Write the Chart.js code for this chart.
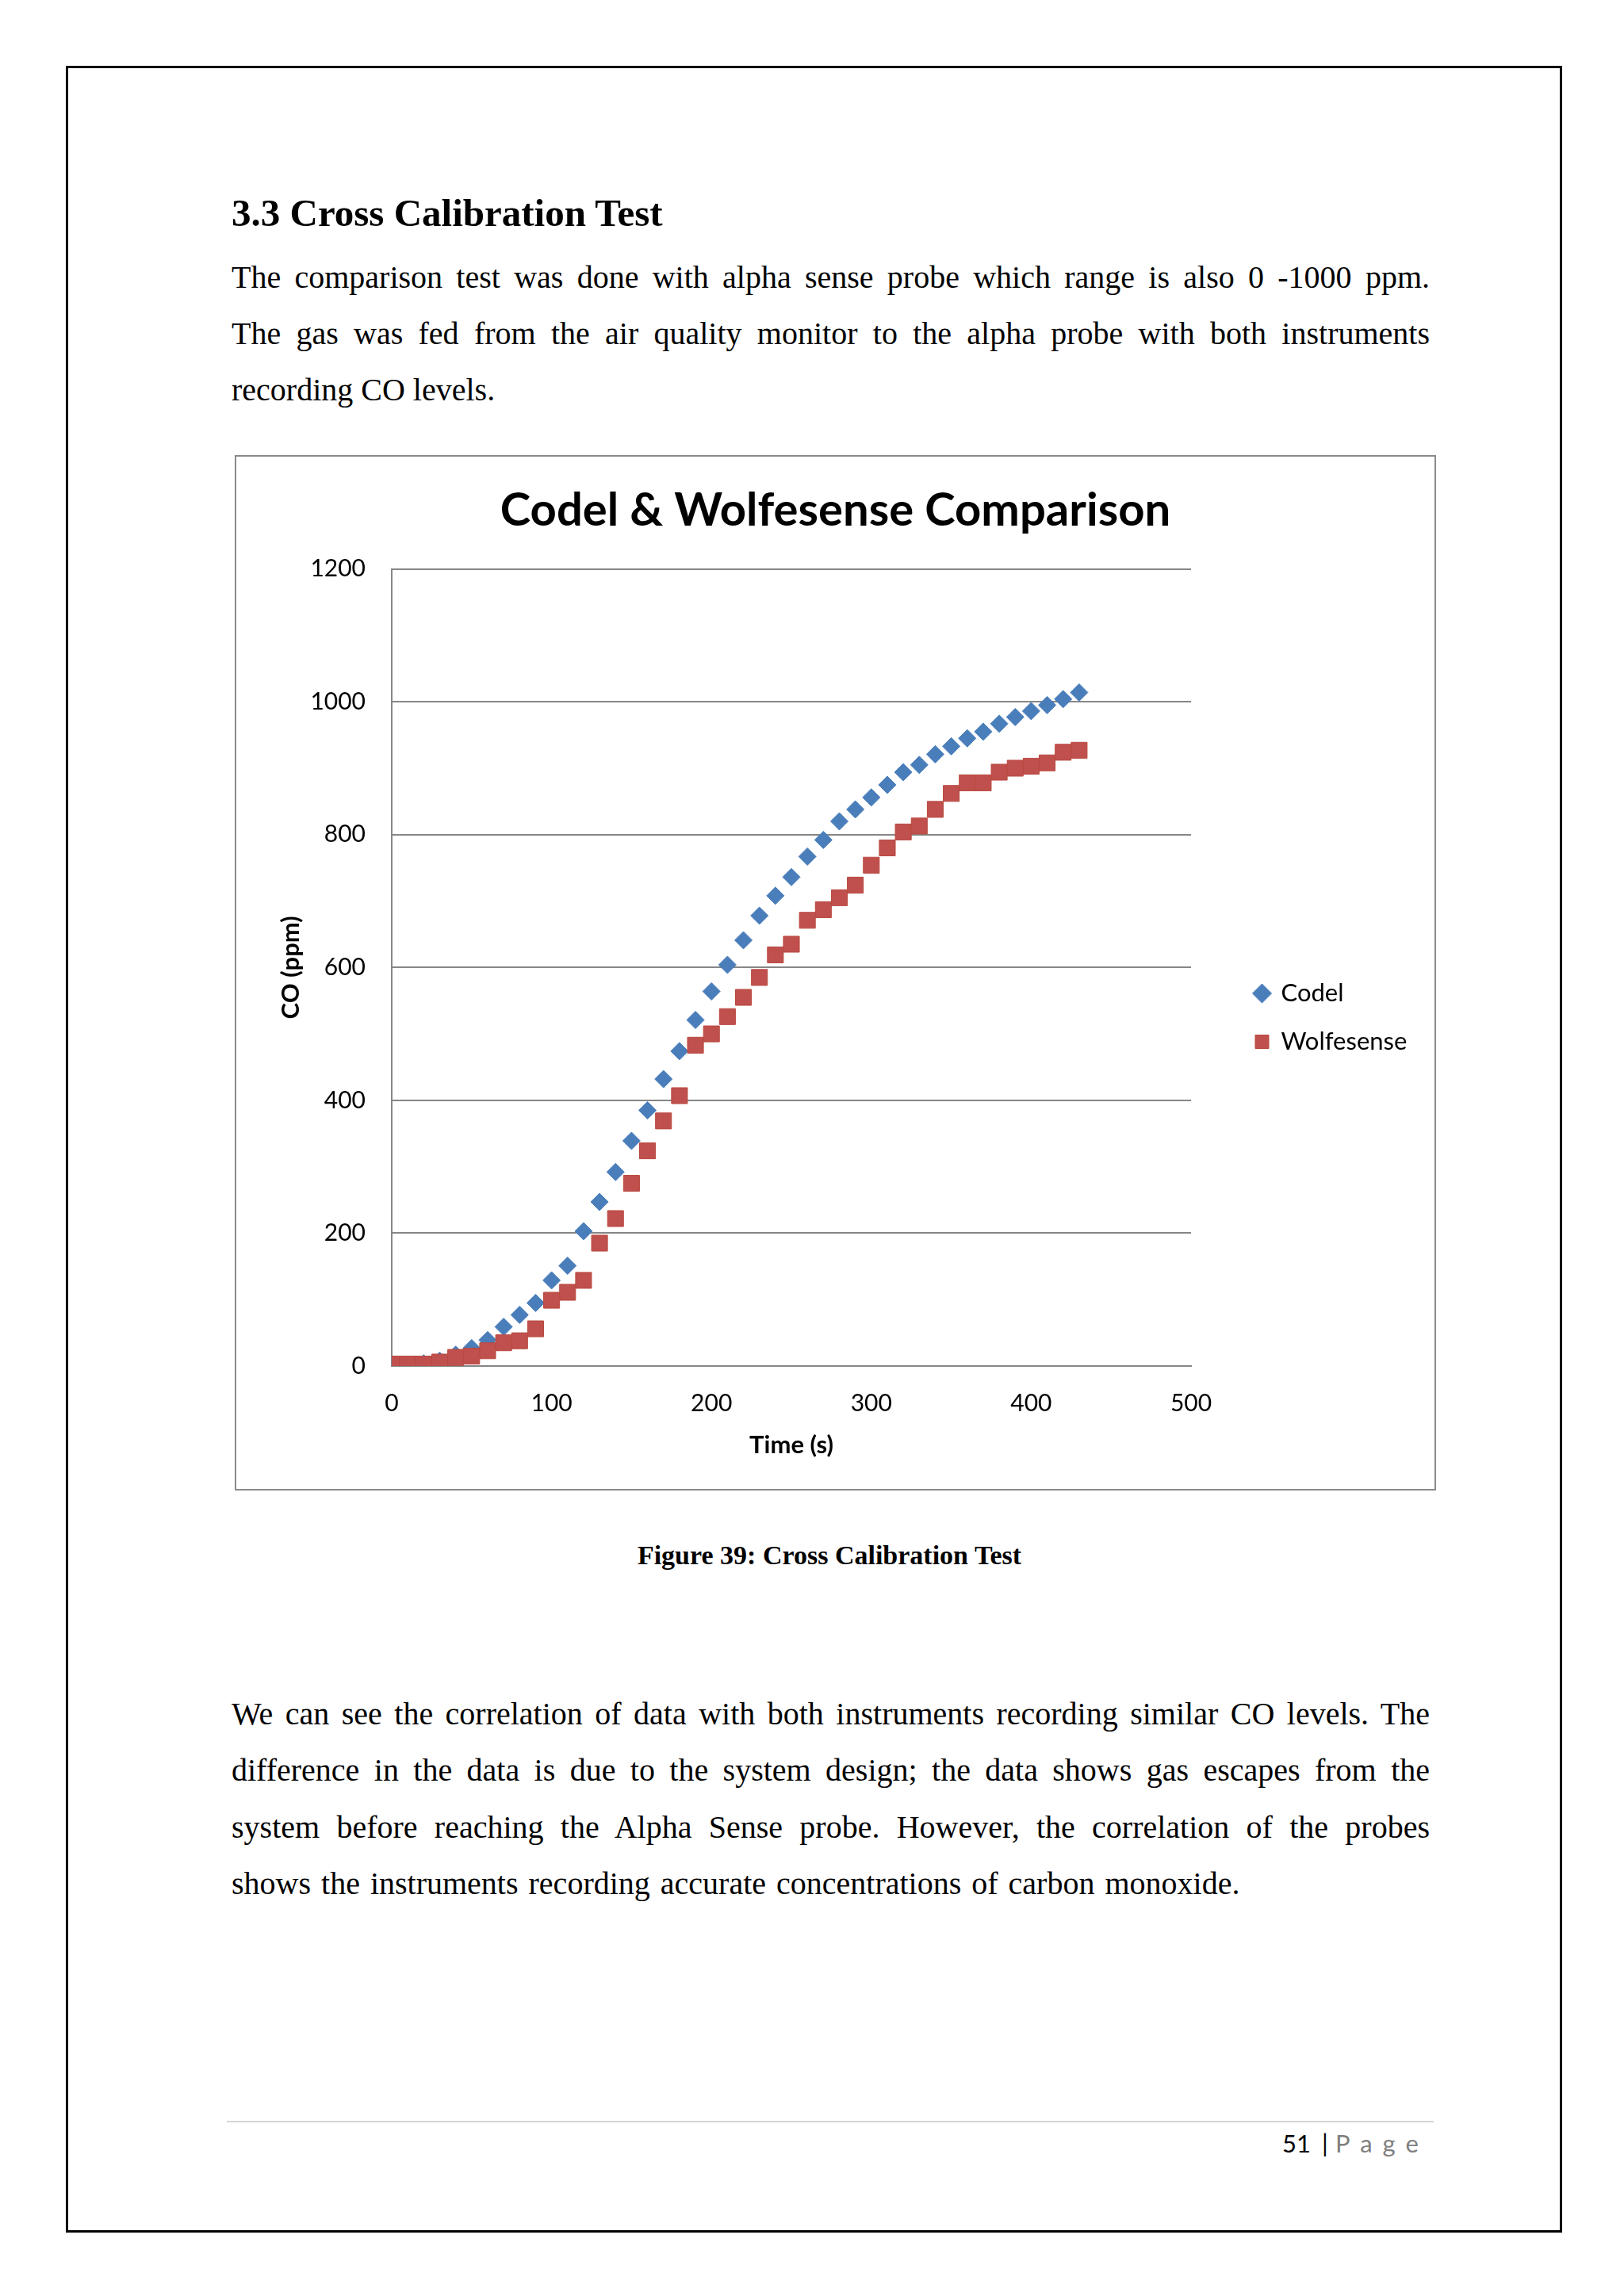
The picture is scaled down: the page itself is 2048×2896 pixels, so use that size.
<!DOCTYPE html>
<html>
<head>
<meta charset="utf-8">
<script src="https://cdn.jsdelivr.net/npm/chart.js@4.4.1/dist/chart.umd.min.js"></script>
<style>
  html, body { margin: 0; padding: 0; background: #fff; }
  #page { position: relative; width: 2048px; height: 2896px; background: #fff; overflow: hidden; }
  .frame { position: absolute; left: 83px; top: 83px; width: 1887px; height: 2733px; border: 3px solid #000; box-sizing: border-box; }
  .serif { position: absolute; font-family: "Liberation Serif", "Times New Roman", serif; color: #000; line-height: 1; white-space: nowrap; }
  .h { font-size: 49px; font-weight: bold; left: 292px; }
  .p { font-size: 40px; left: 292px; width: 1511px; text-align: justify; text-align-last: justify; }
  .p.last { text-align: left; text-align-last: left; }
  .cap { font-size: 34px; font-weight: bold; left: 0; width: 2092px; text-align: center; }
  #chartbox { position: absolute; left: 296px; top: 574px; width: 1515px; height: 1306px; border: 2px solid #8a8a8a; box-sizing: border-box; }
  #c { position: absolute; left: 297px; top: 575px; }
  .footline { position: absolute; left: 286px; top: 2675px; width: 1522px; height: 2px; background: #d4d4d4; }
  .foot { position: absolute; top: 2688px; font-family: Lato, sans-serif; font-size: 31px; line-height: 1; white-space: nowrap; color: #000; }
  .foot.pg { color: #7f7f7f; letter-spacing: 0.42em; }
</style>
</head>
<body>
<div id="page">
  <div class="frame"></div>

  <div class="serif h" style="top:244px;">3.3 Cross Calibration Test</div>
  <div class="serif p" style="top:330px;">The comparison test was done with alpha sense probe which range is also 0 -1000 ppm.</div>
  <div class="serif p" style="top:401px;">The gas was fed from the air quality monitor to the alpha probe with both instruments</div>
  <div class="serif p last" style="top:472px;">recording CO levels.</div>

  <div id="chartbox"></div>
  <canvas id="c" width="1513" height="1304" style="width:1513px;height:1304px;"></canvas>

  <div class="serif cap" style="top:1945px;">Figure 39: Cross Calibration Test</div>

  <div class="serif p" style="top:2142px;">We can see the correlation of data with both instruments recording similar CO levels. The</div>
  <div class="serif p" style="top:2213px;">difference in the data is due to the system design; the data shows gas escapes from the</div>
  <div class="serif p" style="top:2285px;">system before reaching the Alpha Sense probe. However, the correlation of the probes</div>
  <div class="serif p last" style="top:2356px; word-spacing:3px;">shows the instruments recording accurate concentrations of carbon monoxide.</div>

  <div class="footline"></div>
  <div class="foot" style="left:1617px;">51</div>
  <div class="foot" style="left:1667px;">|</div>
  <div class="foot pg" style="left:1684px;">Page</div>
</div>

<script>
// ---- data ----
const timeSeconds = [0, 10, 20, 30, 40, 50, 60, 70, 80, 90,
  100, 110, 120, 130, 140, 150, 160, 170, 180, 190,
  200, 210, 220, 230, 240, 250, 260, 270, 280, 290,
  300, 310, 320, 330, 340, 350, 360, 370, 380, 390,
  400, 410, 420, 430];
const codelPpm = [0, 2, 4, 8, 17, 27, 39, 59, 77, 95,
  129, 151, 203, 247, 292, 339, 385, 432, 474, 521,
  564, 604, 641, 678, 708, 736, 767, 792, 820, 838,
  856, 875, 894, 905, 921, 933, 945, 955, 967, 977,
  986, 995, 1004, 1014];
const wolfesensePpm = [3, 3, 3, 6, 13, 15, 23, 35, 38, 56,
  99, 111, 129, 185, 222, 275, 324, 369, 407, 483,
  500, 526, 555, 585, 619, 635, 671, 687, 705, 724,
  754, 780, 804, 813, 838, 862, 878, 878, 894, 900,
  903, 908, 924, 927];
const seriesNames = ['Codel', 'Wolfesense'];
const xTicks = [0, 100, 200, 300, 400, 500];
const yTicks = [0, 200, 400, 600, 800, 1000, 1200];
const chartTitle = 'Codel & Wolfesense Comparison';
const xTitle = 'Time (s)';
const yTitle = 'CO (ppm)';

const toPoints = (xs, ys) => xs.map((x, i) => ({ x: x, y: ys[i] }));

Chart.defaults.font.family = 'Lato';
Chart.defaults.color = '#000';

// legend / layout geometry (canvas px)
const legendFontSize = 31;
const legendPad = 30;
const legendBox = 17;
const legendLeft = 1256;
const canvasW = 1513;
const plotLeft = 197;
const plotRight = 1205;
const mctx = document.createElement('canvas').getContext('2d');
mctx.font = legendFontSize + 'px Lato';
const maxText = Math.max(...seriesNames.map(s => mctx.measureText(s).width));
const legendW = legendPad + legendBox + legendFontSize / 2 + maxText + 10;
const sidePad = Math.max(0, Math.min(45, canvasW - legendLeft - legendW));

new Chart(document.getElementById('c'), {
  type: 'scatter',
  data: {
    datasets: [
      {
        label: seriesNames[0],
        data: toPoints(timeSeconds, codelPpm),
        pointStyle: 'rectRot',
        pointRadius: 11,
        backgroundColor: '#4A7EBB',
        borderColor: '#4A7EBB',
        borderWidth: 1,
        order: 1
      },
      {
        label: seriesNames[1],
        data: toPoints(timeSeconds, wolfesensePpm),
        pointStyle: 'rect',
        pointRadius: 14.2,
        backgroundColor: '#C0504D',
        borderColor: '#B9483F',
        borderWidth: 1,
        order: 0
      }
    ]
  },
  options: {
    responsive: false,
    animation: false,
    events: [],
    layout: { padding: { top: 0, left: sidePad, right: sidePad, bottom: 0 } },
    plugins: {
      title: {
        display: true,
        text: chartTitle,
        color: '#000',
        font: { family: 'Lato', size: 58, weight: 'bold' },
        padding: { top: 34, bottom: 39 }
      },
      legend: {
        display: true,
        position: 'right',
        align: 'center',
        title: { display: true, text: '', font: { size: 10 }, padding: { top: 0, bottom: 101 } },
        labels: {
          usePointStyle: true,
          boxWidth: legendBox,
          boxHeight: legendBox,
          padding: legendPad,
          color: '#000',
          font: { family: 'Lato', size: legendFontSize },
          sort: (a, b) => a.datasetIndex - b.datasetIndex
        }
      },
      tooltip: { enabled: false }
    },
    scales: {
      x: {
        type: 'linear',
        position: 'bottom',
        min: xTicks[0],
        max: xTicks[xTicks.length - 1],
        afterBuildTicks: (s) => { s.ticks = xTicks.map(v => ({ value: v })); },
        afterFit: (s) => { s.height = 156; },
        grid: { display: false },
        border: { display: true, color: '#868686', width: 2 },
        ticks: { padding: 21, color: '#000', font: { family: 'Lato', size: 30 }, callback: (v) => String(v) },
        title: {
          display: true, text: xTitle, color: '#000',
          font: { family: 'Lato', size: 31, weight: 'bold' },
          padding: { top: 0, bottom: 37 }
        }
      },
      y: {
        type: 'linear',
        position: 'left',
        min: yTicks[0],
        max: yTicks[yTicks.length - 1],
        afterBuildTicks: (s) => { s.ticks = yTicks.map(v => ({ value: v })); },
        afterFit: (s) => { s.width = plotLeft - sidePad; },
        grid: { color: '#868686', lineWidth: 2, drawTicks: false },
        border: { display: true, color: '#868686', width: 2 },
        ticks: { padding: 33, color: '#000', font: { family: 'Lato', size: 30 }, callback: (v) => String(v) },
        title: {
          display: true, text: yTitle, color: '#000',
          font: { family: 'Lato', size: 31, weight: 'bold' },
          padding: { top: 51 - sidePad, bottom: 0 }
        }
      },
      gap: {
        type: 'linear',
        position: 'right',
        min: 0,
        max: 1,
        afterFit: (s) => { s.width = legendLeft - plotRight; },
        grid: { display: false },
        border: { display: false },
        ticks: { display: false },
        title: { display: false }
      }
    }
  }
});
</script>
</body>
</html>
